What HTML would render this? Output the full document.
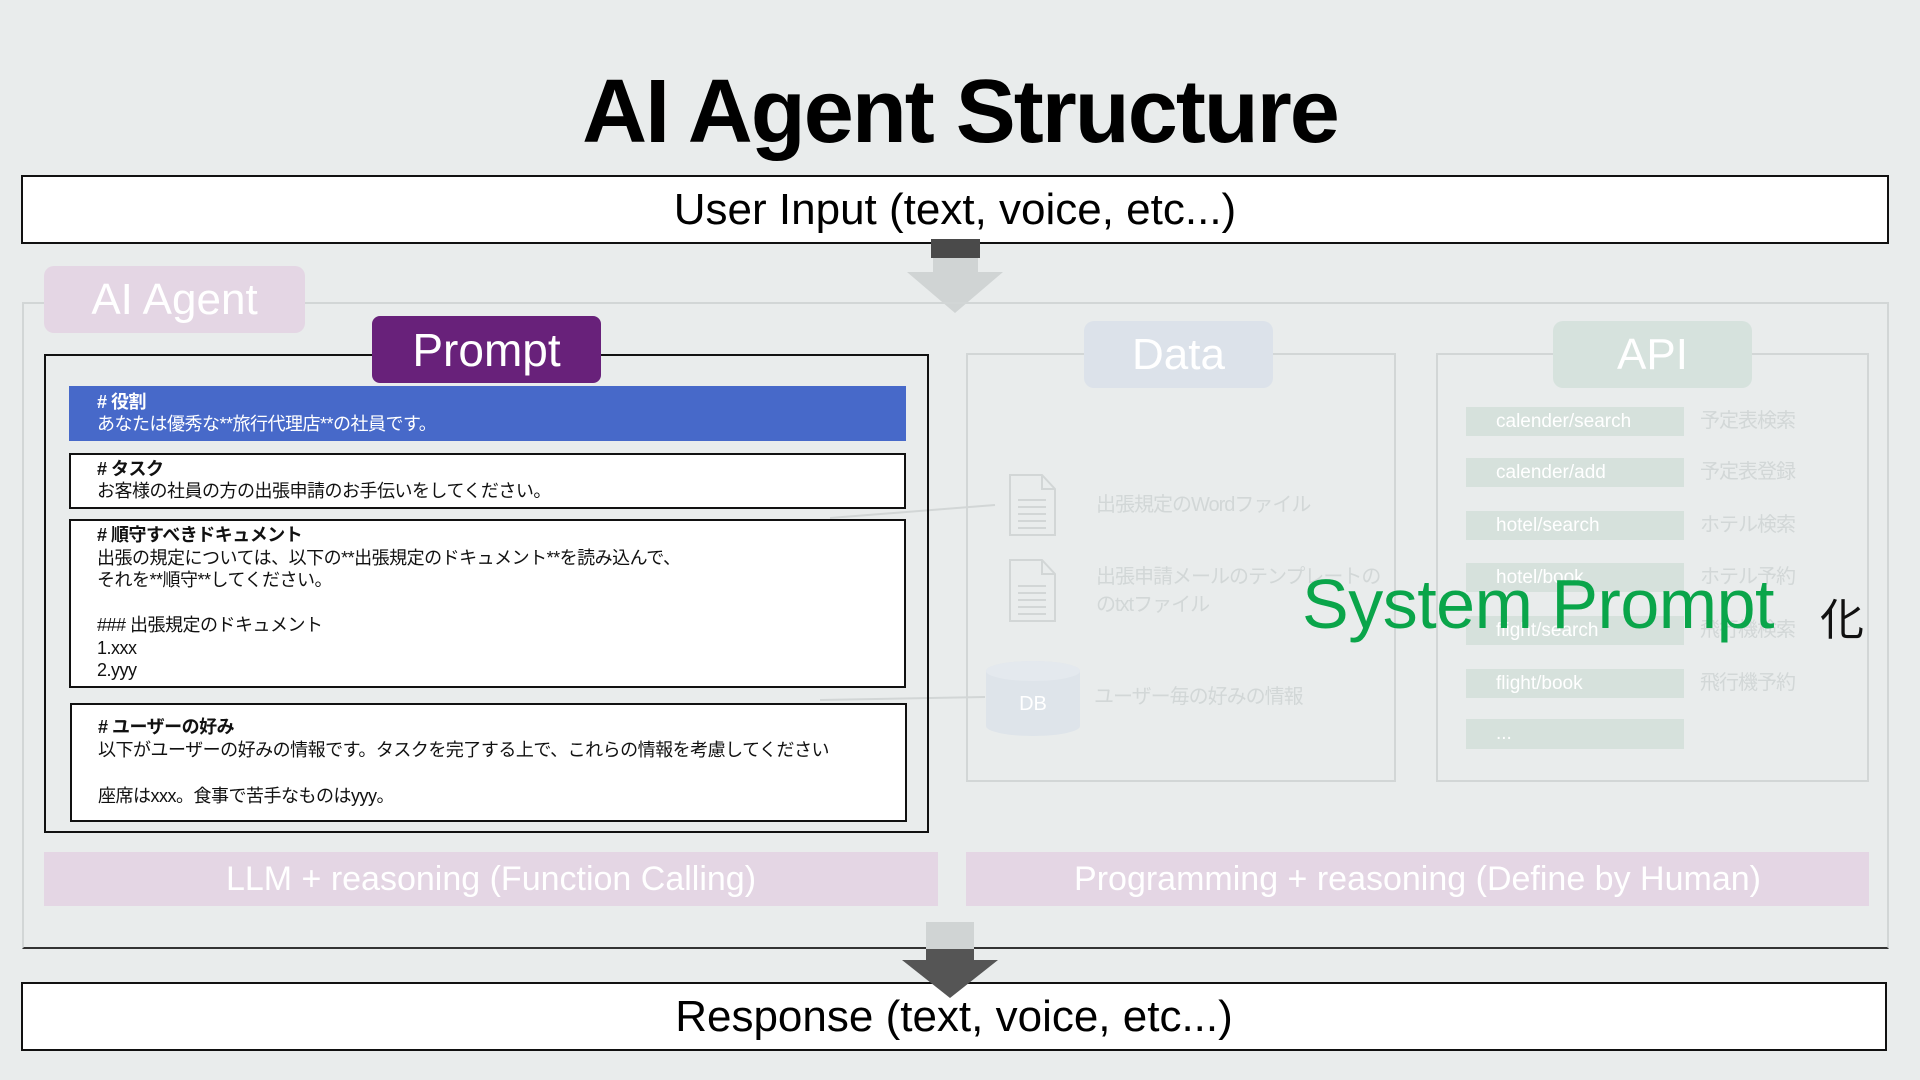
<!DOCTYPE html>
<html><head><meta charset="utf-8"><style>
*{margin:0;padding:0;box-sizing:border-box}
body{width:1920px;height:1080px;background:#e9ecec;position:relative;overflow:hidden;font-family:"Liberation Sans","Noto Sans CJK JP",sans-serif}
.a{position:absolute}
.box{position:absolute;background:#fff;border:2px solid #111}
.t{position:absolute;font-size:18px;line-height:22px;color:#111;white-space:nowrap;letter-spacing:-0.5px}
.c{display:flex;align-items:center;justify-content:center}
.api{position:absolute;left:1466px;width:218px;height:29px;background:#d6e1dc;color:#fff;font-size:19px;line-height:29px;padding-left:30px;white-space:nowrap}
.jp{position:absolute;left:1700px;color:#d2d7d7;font-size:20px;line-height:29px;letter-spacing:-1px}
.dt{position:absolute;color:#d2d7d7;font-size:20px;line-height:28px;white-space:nowrap;letter-spacing:-1px}
</style></head><body>
<div class="a c" style="left:0;top:62px;width:1920px;height:100px;font-size:90px;font-weight:bold;letter-spacing:-2px">AI Agent Structure</div>
<div class="box c" style="left:21px;top:175px;width:1868px;height:69px;font-size:44px">User Input (text, voice, etc...)</div>
<div class="a" style="left:931px;top:239px;width:49px;height:19px;background:#4a4a4a"></div>
<div class="a" style="left:907px;top:272px;width:0;height:0;border-left:48px solid transparent;border-right:48px solid transparent;border-top:41px solid #d0d4d4"></div>
<div class="a" style="left:933px;top:258px;width:45px;height:14px;background:#d0d4d4"></div>
<div class="a" style="left:22px;top:302px;width:1867px;height:647px;border:2px solid #d2d6d6;border-bottom:2px solid #333"></div>
<div class="a c" style="left:44px;top:266px;width:261px;height:67px;background:#e4d6e4;border-radius:10px;color:#fff;font-size:44px">AI Agent</div>
<!-- Data & API -->
<div class="a" style="left:966px;top:353px;width:430px;height:429px;border:2px solid #d2d6d6"></div>
<div class="a c" style="left:1084px;top:321px;width:189px;height:67px;background:#dce2ea;border-radius:10px;color:#fff;font-size:44px">Data</div>
<div class="a" style="left:1436px;top:353px;width:433px;height:429px;border:2px solid #d2d6d6"></div>
<div class="a c" style="left:1553px;top:321px;width:199px;height:67px;background:#d6e2dd;border-radius:10px;color:#fff;font-size:44px">API</div>
<div class="api" style="top:407px">calender/search</div><div class="jp" style="top:407px">予定表検索</div>
<div class="api" style="top:458px">calender/add</div><div class="jp" style="top:458px">予定表登録</div>
<div class="api" style="top:511px">hotel/search</div><div class="jp" style="top:511px">ホテル検索</div>
<div class="api" style="top:563px">hotel/book</div><div class="jp" style="top:563px">ホテル予約</div>
<div class="api" style="top:616px">flight/search</div><div class="jp" style="top:616px">飛行機検索</div>
<div class="api" style="top:669px">flight/book</div><div class="jp" style="top:669px">飛行機予約</div>
<div class="api" style="top:719px;height:30px">...</div>
<svg class="a" style="left:0;top:0" width="1920" height="1080">
<g stroke="#d2d6d6" stroke-width="2" fill="none">
<path d="M830 518 L995 505"/><path d="M820 700 L985 697"/>
<path d="M1010 475 h32 l13 14 v46 h-45z M1042 475 v14 h13"/>
<path d="M1010 560 h32 l13 14 v47 h-45z M1042 560 v14 h13"/>
<path d="M1018 500 h28 M1018 507 h28 M1018 514 h28 M1018 521 h28 M1018 528 h28"/>
<path d="M1018 586 h28 M1018 593 h28 M1018 600 h28 M1018 607 h28 M1018 614 h28"/>
</g>
<path d="M986 671 a47 10 0 0 1 94 0 v55 a47 10 0 0 1 -94 0z" fill="#dee4ea"/>
<ellipse cx="1033" cy="671" rx="47" ry="10" fill="#e4e9ee"/>
<text x="1033" y="710" font-size="20" fill="#fff" text-anchor="middle" font-family="Liberation Sans">DB</text>
</svg>
<div class="dt" style="left:1096px;top:491px">出張規定のWordファイル</div>
<div class="dt" style="left:1096px;top:563px">出張申請メールのテンプレートの<br>のtxtファイル</div>
<div class="dt" style="left:1094px;top:683px">ユーザー毎の好みの情報</div>
<!-- Prompt -->
<div class="a" style="left:44px;top:354px;width:885px;height:479px;border:2px solid #111"></div>
<div class="a c" style="left:372px;top:316px;width:229px;height:67px;background:#68217a;border-radius:8px;color:#fff;font-size:46px">Prompt</div>
<div class="a" style="left:69px;top:386px;width:837px;height:55px;background:#4769c9"></div>
<div class="t" style="left:97px;top:391px;color:#fff"><b># 役割</b><br>あなたは優秀な**旅行代理店**の社員です。</div>
<div class="box" style="left:69px;top:453px;width:837px;height:56px"></div>
<div class="t" style="left:97px;top:458px"><b># タスク</b><br>お客様の社員の方の出張申請のお手伝いをしてください。</div>
<div class="box" style="left:69px;top:519px;width:837px;height:169px"></div>
<div class="t" style="left:97px;top:524px;line-height:22.5px"><b># 順守すべきドキュメント</b><br>出張の規定については、以下の**出張規定のドキュメント**を読み込んで、<br>それを**順守**してください。<br><br>### 出張規定のドキュメント<br>1.xxx<br>2.yyy</div>
<div class="box" style="left:70px;top:703px;width:837px;height:119px"></div>
<div class="t" style="left:98px;top:716px;line-height:23px"><b># ユーザーの好み</b><br>以下がユーザーの好みの情報です。タスクを完了する上で、これらの情報を考慮してください<br><br>座席はxxx。食事で苦手なものはyyy。</div>
<!-- System prompt -->
<div class="a" style="left:1302px;top:562px;font-size:70px;color:#0aa54a;white-space:nowrap;line-height:84px;letter-spacing:-0.5px">System Prompt</div>
<div class="a" style="left:1820px;top:584px;font-size:44px;color:#111">化</div>
<!-- bottom bars -->
<div class="a c" style="left:44px;top:852px;width:894px;height:54px;background:#e4d6e4;color:#fff;font-size:34px">LLM + reasoning (Function Calling)</div>
<div class="a c" style="left:966px;top:852px;width:903px;height:54px;background:#e4d6e4;color:#fff;font-size:34px">Programming + reasoning (Define by Human)</div>
<div class="a" style="left:926px;top:922px;width:48px;height:27px;background:#d0d4d4"></div>
<div class="a" style="left:926px;top:949px;width:48px;height:12px;background:#555"></div>
<div class="a" style="left:902px;top:960px;width:0;height:0;border-left:48px solid transparent;border-right:48px solid transparent;border-top:38px solid #555"></div>
<div class="box c" style="left:21px;top:982px;width:1866px;height:69px;font-size:44px;z-index:-1">Response (text, voice, etc...)</div>
</body></html>
